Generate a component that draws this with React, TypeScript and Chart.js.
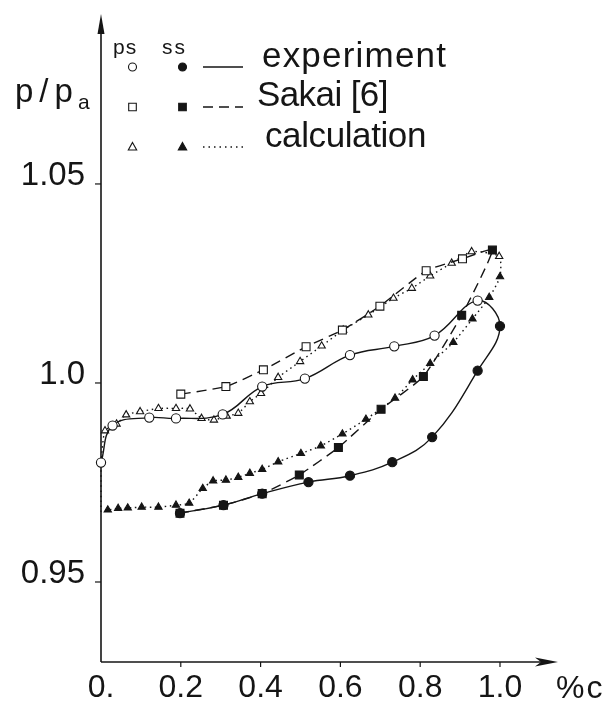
import React, { useEffect, useRef } from 'react';
import { Chart, registerables } from 'chart.js';

Chart.register(...registerables);

// ---------- data (x = chord fraction, y = p/pa) ----------
// experiment: pressure side (open circles), suction side (filled circles)
const expPsX = [0.0, 0.029, 0.121, 0.188, 0.305, 0.404, 0.511, 0.624, 0.735, 0.836, 0.944];
const expPsY = [0.980, 0.9893, 0.9913, 0.9911, 0.9921, 0.9991, 1.0011, 1.007, 1.0092, 1.0119, 1.0207];
const expSsX = [1.0, 0.944, 0.830, 0.730, 0.624, 0.520, 0.404, 0.307, 0.198];
const expSsY = [1.0143, 1.0031, 0.9864, 0.9801, 0.9767, 0.9751, 0.9722, 0.9693, 0.9673];

// Sakai [6]: open squares (ps), filled squares (ss)
const sakPsX = [0.2, 0.313, 0.407, 0.514, 0.605, 0.699, 0.815, 0.906];
const sakPsY = [0.9972, 0.9991, 1.0033, 1.0091, 1.0133, 1.0193, 1.0282, 1.0312];
const sakSsX = [0.981, 0.904, 0.808, 0.702, 0.595, 0.497, 0.404, 0.307, 0.198];
const sakSsY = [1.0334, 1.017, 1.0016, 0.9934, 0.9838, 0.9769, 0.9722, 0.9693, 0.9673];

// calculation: open triangles (ps), filled triangles (ss); x = 0 entries are unmarked loop closures
const calcPsX = [0.0, 0.010, 0.039, 0.063, 0.098, 0.144, 0.188, 0.223, 0.252, 0.283, 0.315, 0.344, 0.373, 0.401, 0.444, 0.499, 0.553, 0.607, 0.670, 0.733, 0.779, 0.825, 0.879, 0.929, 0.998];
const calcPsY = [0.980, 0.988, 0.9897, 0.992, 0.9928, 0.9936, 0.9936, 0.9935, 0.9911, 0.9907, 0.9917, 0.9924, 0.9953, 0.9974, 1.0014, 1.0054, 1.0093, 1.0133, 1.0171, 1.0213, 1.0238, 1.0269, 1.0301, 1.033, 1.0318];
const calcSsX = [1.0, 0.973, 0.931, 0.883, 0.825, 0.781, 0.737, 0.664, 0.605, 0.551, 0.501, 0.444, 0.404, 0.373, 0.344, 0.313, 0.281, 0.255, 0.221, 0.188, 0.144, 0.102, 0.067, 0.043, 0.017, 0.0, 0.0];
const calcSsY = [1.0267, 1.0215, 1.0161, 1.0102, 1.0049, 1.0008, 0.9962, 0.9909, 0.9872, 0.9842, 0.9823, 0.9802, 0.9783, 0.9773, 0.9763, 0.9756, 0.9754, 0.9735, 0.9698, 0.9693, 0.9688, 0.9688, 0.9686, 0.9685, 0.9681, 0.9678, 0.980];

// axes
const xMin = 0;
const xMax = 1.1454;
const yMin = 0.9299;
const yMax = 1.0927;
const xTicks = [0, 0.2, 0.4, 0.6, 0.8, 1.0];
const xTickLabels = ['0.', '0.2', '0.4', '0.6', '0.8', '1.0'];
const yTicks = [0.95, 1.0, 1.05];
const yTickLabels = ['0.95', '1.0', '1.05'];
const xUnit = '%c';
const yTitleMain = 'p/p';
const yTitleSub = 'a';
const sideLabels = ['ps', 'ss'];
const legendLabels = ['experiment', 'Sakai [6]', 'calculation'];

const INK = '#151515';
const FONT = '"Liberation Sans", Arial, Helvetica, sans-serif';

function pts(xs: number[], ys: number[]) {
  return xs.map((x, i) => ({ x, y: ys[i] }));
}

function makeDataset(
  label: string,
  psX: number[], psY: number[], ssX: number[], ssY: number[],
  style: string, radius: number, dash: number[], tension: number, hideAtZero: boolean
) {
  const data = [...pts(psX, psY), ...pts(ssX, ssY)];
  const n = psX.length;
  const bg = data.map((_, i) => (i < n ? '#ffffff' : INK));
  const rad = data.map((p) => (hideAtZero && p.x === 0 ? 0 : radius));
  return {
    label,
    data,
    showLine: true,
    borderColor: INK,
    borderWidth: 1.4,
    borderDash: dash,
    tension,
    fill: false,
    clip: false as any,
    pointStyle: style,
    pointRadius: rad,
    pointBackgroundColor: bg,
    pointBorderColor: INK,
    pointBorderWidth: 1.1,
  };
}

const decorPlugin = {
  id: 'decor',
  beforeDatasetsDraw(chart: any) {
    const { ctx, scales } = chart;
    const xs = scales.x;
    const ys = scales.y;
    const x0 = xs.getPixelForValue(0);
    const yb = ys.getPixelForValue(yMin);
    const yt = ys.getPixelForValue(yMax);
    const xr = xs.getPixelForValue(xMax);
    ctx.save();
    ctx.strokeStyle = INK;
    ctx.fillStyle = INK;
    ctx.lineWidth = 1.6;
    // y axis
    ctx.beginPath();
    ctx.moveTo(x0, yb);
    ctx.lineTo(x0, yt + 10);
    ctx.stroke();
    ctx.beginPath();
    ctx.moveTo(x0, yt);
    ctx.lineTo(x0 - 3.5, yt + 20);
    ctx.lineTo(x0 + 3.5, yt + 20);
    ctx.closePath();
    ctx.fill();
    // x axis
    ctx.beginPath();
    ctx.moveTo(x0, yb);
    ctx.lineTo(xr - 12, yb);
    ctx.stroke();
    ctx.beginPath();
    ctx.moveTo(xr, yb);
    ctx.lineTo(xr - 23, yb - 4.5);
    ctx.lineTo(xr - 17, yb);
    ctx.lineTo(xr - 23, yb + 4.5);
    ctx.closePath();
    ctx.fill();
    // ticks
    ctx.lineWidth = 1.2;
    yTicks.forEach((v) => {
      const py = ys.getPixelForValue(v);
      ctx.beginPath();
      ctx.moveTo(x0 - 6, py);
      ctx.lineTo(x0, py);
      ctx.stroke();
    });
    xTicks.forEach((v) => {
      if (v === 0) return;
      const px = xs.getPixelForValue(v);
      ctx.beginPath();
      ctx.moveTo(px, yb);
      ctx.lineTo(px, yb + 5);
      ctx.stroke();
    });
    ctx.restore();
  },
  afterDraw(chart: any) {
    const { ctx, scales } = chart;
    const xs = scales.x;
    const ys = scales.y;
    const x0 = xs.getPixelForValue(0);
    const yb = ys.getPixelForValue(yMin);
    const xr = xs.getPixelForValue(xMax);
    ctx.save();
    ctx.fillStyle = INK;
    ctx.strokeStyle = INK;
    // y tick labels (baseline on the tick)
    ctx.font = `33px ${FONT}`;
    ctx.textAlign = 'right';
    ctx.textBaseline = 'alphabetic';
    yTicks.forEach((v, i) => {
      ctx.fillText(yTickLabels[i], x0 - 16, ys.getPixelForValue(v) + 1);
    });
    // x tick labels
    ctx.font = `32px ${FONT}`;
    ctx.textAlign = 'center';
    xTicks.forEach((v, i) => {
      ctx.fillText(xTickLabels[i], xs.getPixelForValue(v), yb + 35);
    });
    ctx.textAlign = 'left';
    (ctx as any).letterSpacing = '2px';
    ctx.fillText(xUnit, xr - 2, yb + 36);
    // y title
    (ctx as any).letterSpacing = '6px';
    ctx.font = `33px ${FONT}`;
    ctx.fillText(yTitleMain, x0 - 86, 102);
    (ctx as any).letterSpacing = '0px';
    ctx.font = `21px ${FONT}`;
    ctx.fillText(yTitleSub, x0 - 23, 109);

    // legend
    ctx.font = `21px ${FONT}`;
    (ctx as any).letterSpacing = '1px';
    ctx.fillText(sideLabels[0], x0 + 12, 54);
    (ctx as any).letterSpacing = '2px';
    ctx.fillText(sideLabels[1], x0 + 61, 54);
    (ctx as any).letterSpacing = '0px';

    const colPs = x0 + 31.5;
    const colSs = x0 + 81.5;
    const rows = [67, 107, 147];
    const lineX1 = x0 + 102;
    const lineX2 = x0 + 142;
    const dashes = [[], [10, 6], [1.5, 4]];
    const textX = [x0 + 161, x0 + 156, x0 + 164];
    const textBase = [67, 106, 147];
    const spacing = ['1.2px', '-0.6px', '-0.4px'];

    ctx.lineWidth = 1.1;
    rows.forEach((ry, r) => {
      // markers
      for (let c = 0; c < 2; c++) {
        const cx = c === 0 ? colPs : colSs;
        ctx.beginPath();
        if (r === 0) {
          ctx.arc(cx, ry, 4, 0, Math.PI * 2);
        } else if (r === 1) {
          ctx.rect(cx - 3.8, ry - 3.8, 7.6, 7.6);
        } else {
          ctx.moveTo(cx, ry - 4.5);
          ctx.lineTo(cx + 4.2, ry + 3);
          ctx.lineTo(cx - 4.2, ry + 3);
          ctx.closePath();
        }
        if (c === 0) {
          ctx.fillStyle = '#ffffff';
          ctx.fill();
          ctx.stroke();
        } else {
          ctx.fillStyle = INK;
          ctx.fill();
          ctx.stroke();
        }
      }
      // line sample
      ctx.save();
      ctx.lineWidth = 1.4;
      ctx.setLineDash(dashes[r]);
      ctx.beginPath();
      ctx.moveTo(lineX1, ry);
      ctx.lineTo(lineX2, ry);
      ctx.stroke();
      ctx.restore();
      // label
      ctx.fillStyle = INK;
      ctx.font = `35px ${FONT}`;
      (ctx as any).letterSpacing = spacing[r];
      ctx.fillText(legendLabels[r], textX[r], textBase[r]);
      (ctx as any).letterSpacing = '0px';
    });
    ctx.restore();
  },
};

export default function App() {
  const ref = useRef<HTMLCanvasElement | null>(null);
  useEffect(() => {
    document.body.style.margin = '0';
    const canvas = ref.current;
    if (!canvas) return;
    const chart = new Chart(canvas, {
      type: 'scatter',
      data: {
        datasets: [
          makeDataset('experiment', expPsX, expPsY, expSsX, expSsY, 'circle', 4.6, [], 0.4, false),
          makeDataset('Sakai [6]', sakPsX, sakPsY, sakSsX, sakSsY, 'rect', 5.6, [10, 6], 0.15, false),
          makeDataset('calculation', calcPsX, calcPsY, calcSsX, calcSsY, 'triangle', 4.2, [1.5, 3.5], 0.2, true),
        ] as any,
      },
      options: {
        animation: false,
        responsive: false,
        devicePixelRatio: 1,
        layout: { padding: { left: 101, right: 50, top: 14, bottom: 41 } },
        plugins: {
          legend: { display: false },
          tooltip: { enabled: false },
          title: { display: false },
        },
        scales: {
          x: { type: 'linear', min: xMin, max: xMax, display: false },
          y: { type: 'linear', min: yMin, max: yMax, display: false },
        },
      },
      plugins: [decorPlugin as any],
    });
    return () => chart.destroy();
  }, []);
  return (
    <div style={{ width: 608, height: 703, background: '#fff' }}>
      <canvas ref={ref} width={608} height={703} style={{ display: 'block' }} />
    </div>
  );
}
